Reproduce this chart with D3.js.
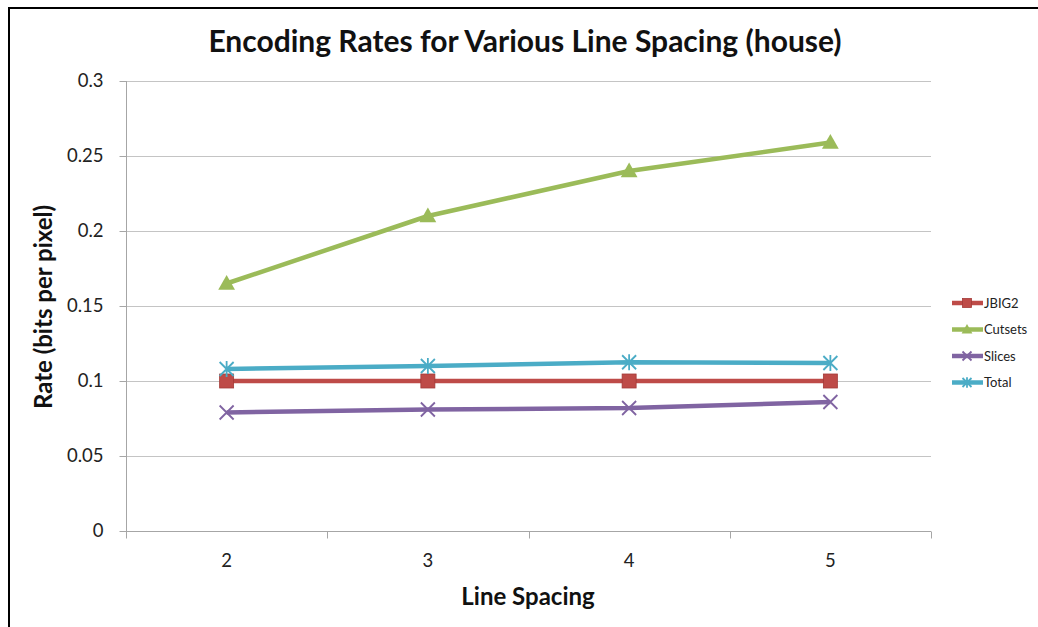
<!DOCTYPE html>
<html>
<head>
<meta charset="utf-8">
<script src="https://cdn.jsdelivr.net/npm/d3@7"></script>
<style>
  html, body { margin: 0; padding: 0; background: #fff; }
  svg { display: block; font-family: Lato, "Open Sans", sans-serif; }
</style>
</head>
<body>
<svg id="chart" width="1038" height="627"></svg>
<script>
// Line spacing categories and encoding rates (bits per pixel)
const categories = ["2", "3", "4", "5"];
const jbig2   = [0.100, 0.100, 0.100, 0.100];
const cutsets = [0.165, 0.210, 0.240, 0.259];
const slices  = [0.079, 0.081, 0.082, 0.086];
const total   = [0.108, 0.110, 0.1125, 0.112];
const yTicks  = [0, 0.05, 0.1, 0.15, 0.2, 0.25, 0.3];

const seriesNames  = ["JBIG2", "Cutsets", "Slices", "Total"];
const seriesValues = [jbig2, cutsets, slices, total];
const seriesColors = ["#BE4B48", "#9BBB59", "#8064A2", "#4BACC6"];
const seriesMarks  = ["square", "triangle", "cross", "star"];

const svg = d3.select("#chart");

// outer frame
svg.append("path")
  .attr("d", "M9,640 V8 H1050")
  .attr("fill", "none").attr("stroke", "#000").attr("stroke-width", 2);

const plot = { left: 126, right: 931, top: 81, bottom: 531 };

const x = d3.scaleBand().domain(categories).range([plot.left, plot.right]);
const y = d3.scaleLinear().domain([0, 0.3]).range([plot.bottom, plot.top]);

// gridlines
svg.append("g").selectAll("line").data(yTicks.filter(d => d > 0)).join("line")
  .attr("x1", plot.left).attr("x2", plot.right)
  .attr("y1", d => y(d) + 0.5).attr("y2", d => y(d) + 0.5)
  .attr("stroke", "#c4c4c4").attr("stroke-width", 1.2);

// y axis
const yAxis = svg.append("g").attr("transform", `translate(${plot.left + 0.5},0)`)
  .call(d3.axisLeft(y).tickValues(yTicks).tickFormat(d => d === 0 ? "0" : String(+d.toFixed(2))).tickSize(7).tickPadding(16));
yAxis.select(".domain").attr("stroke", "#a6a6a6").attr("d", `M0,${plot.top}V${plot.bottom}`);
yAxis.selectAll(".tick line").attr("stroke", "#a6a6a6");
yAxis.selectAll(".tick text").attr("font-size", 18.5).attr("fill", "#222")
  .attr("font-family", "Lato, sans-serif");

// x axis with ticks at category boundaries
const xAxis = svg.append("g").attr("transform", `translate(0,${plot.bottom + 0.5})`)
  .call(d3.axisBottom(x).tickSize(0).tickPadding(22));
xAxis.select(".domain").attr("stroke", "#a6a6a6").attr("d", `M${plot.left},0H${plot.right}`);
xAxis.selectAll(".tick text").attr("font-size", 18.5).attr("fill", "#222")
  .attr("font-family", "Lato, sans-serif");
const bounds = categories.map(c => x(c)).concat([x(categories[categories.length - 1]) + x.bandwidth()]);
xAxis.append("g").selectAll("line").data(bounds).join("line")
  .attr("x1", d => Math.round(d) + 0.5).attr("x2", d => Math.round(d) + 0.5)
  .attr("y1", 0).attr("y2", 7).attr("stroke", "#a6a6a6");

// titles
svg.append("text").attr("x", 525).attr("y", 52).attr("text-anchor", "middle")
  .attr("font-size", 30).attr("font-weight", "bold").attr("fill", "#111")
  .text("Encoding Rates for Various Line Spacing (house)");
svg.append("text").attr("x", 528).attr("y", 605).attr("text-anchor", "middle")
  .attr("font-size", 24).attr("font-weight", "bold").attr("fill", "#111")
  .text("Line Spacing");
svg.append("text").attr("transform", "translate(52,307) rotate(-90)").attr("text-anchor", "middle")
  .attr("font-size", 24).attr("font-weight", "bold").attr("fill", "#111")
  .text("Rate (bits per pixel)");

// marker drawing
function drawMarker(g, type, color, size) {
  const s = size;
  if (type === "square") {
    g.append("rect").attr("x", -s / 2).attr("y", -s / 2).attr("width", s).attr("height", s)
      .attr("fill", color).attr("stroke", "#a33a37").attr("stroke-width", 0.8);
  } else if (type === "triangle") {
    g.append("path").attr("d", `M0,${-s * 0.6}L${s * 0.6},${s * 0.45}L${-s * 0.6},${s * 0.45}Z`)
      .attr("fill", color);
  } else if (type === "cross") {
    const h = s / 2;
    g.append("path").attr("d", `M${-h},${-h}L${h},${h}M${-h},${h}L${h},${-h}`)
      .attr("stroke", color).attr("stroke-width", 1.8).attr("fill", "none");
  } else if (type === "star") {
    const h = s / 2;
    g.append("path").attr("d", `M${-h},${-h}L${h},${h}M${-h},${h}L${h},${-h}M0,${-h * 1.15}V${h * 1.15}`)
      .attr("stroke", color).attr("stroke-width", 1.8).attr("fill", "none");
  }
}

const line = d3.line().x((d, i) => x(categories[i]) + x.bandwidth() / 2).y(d => y(d));

seriesValues.forEach((vals, k) => {
  const g = svg.append("g");
  g.append("path").attr("d", line(vals)).attr("fill", "none")
    .attr("stroke", seriesColors[k]).attr("stroke-width", 4.5).attr("stroke-linejoin", "round");
  vals.forEach((v, i) => {
    const m = g.append("g").attr("transform", `translate(${x(categories[i]) + x.bandwidth() / 2},${y(v)})`);
    drawMarker(m, seriesMarks[k], seriesColors[k], 14);
  });
});

// legend
const legend = svg.append("g");
seriesNames.forEach((name, k) => {
  const ly = 303 + k * 26.5;
  const lg = legend.append("g").attr("transform", `translate(0,${ly})`);
  lg.append("line").attr("x1", 952).attr("x2", 983).attr("y1", 0).attr("y2", 0)
    .attr("stroke", seriesColors[k]).attr("stroke-width", 4.5);
  const m = lg.append("g").attr("transform", "translate(967,0)");
  drawMarker(m, seriesMarks[k], seriesColors[k], 9);
  lg.append("text").attr("x", 984).attr("y", 4.5).attr("font-size", 13).attr("fill", "#222")
    .text(name);
});
</script>
</body>
</html>
